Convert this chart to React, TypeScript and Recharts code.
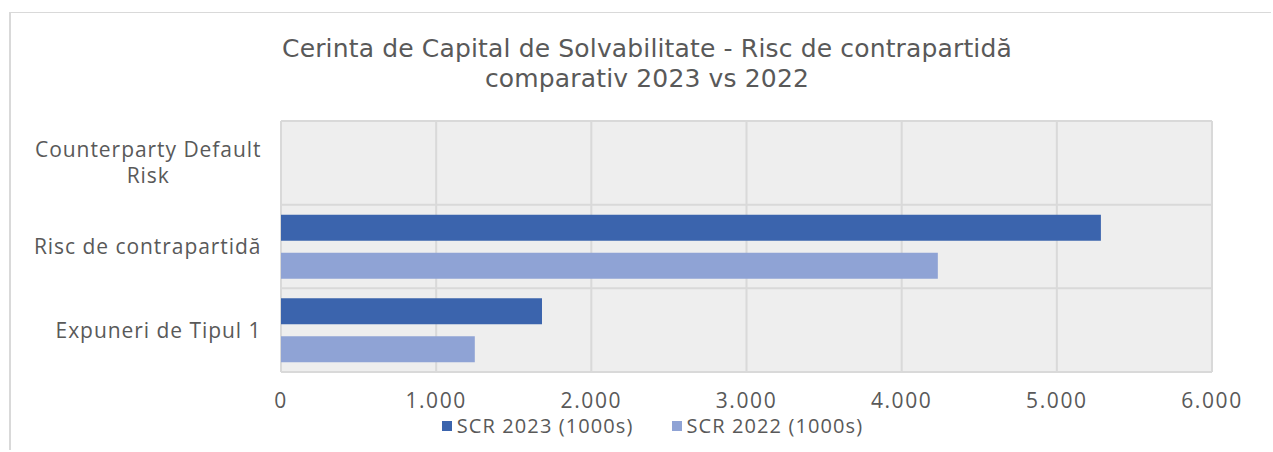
import React from "react";
import {
  BarChart,
  Bar,
  XAxis,
  YAxis,
  CartesianGrid,
  Legend,
} from "recharts";

const categories = [
  "Counterparty Default Risk",
  "Risc de contrapartidă",
  "Expuneri de Tipul 1",
];
const scr2023 = [null, 5284, 1682];
const scr2022 = [null, 4233, 1249];
const xTicks = [0, 1000, 2000, 3000, 4000, 5000, 6000];
const titleLines = [
  "Cerinta de Capital de Solvabilitate - Risc de contrapartidă",
  "comparativ 2023 vs 2022",
];

const FONT = '"Open Sans", sans-serif';
const TITLE_FONT = '"DejaVu Sans", sans-serif';
const TEXT = "#595959";
const DARK = "#3b64ad";
const LIGHT = "#8fa3d5";

const data = categories.map((name, i) => ({
  name,
  s2023: scr2023[i],
  s2022: scr2022[i],
}));

const fmt = (v: number) => v.toLocaleString("de-DE");

let ctx: CanvasRenderingContext2D | null = null;
function measure(s: string, size: number, ls: number) {
  if (!ctx) ctx = document.createElement("canvas").getContext("2d");
  if (!ctx) return s.length * size * 0.5;
  ctx.font = `${size}px ${FONT}`;
  return ctx.measureText(s).width + ls * (s.length - 1);
}

function wrap(text: string, size: number, ls: number, maxW: number) {
  const words = text.split(" ");
  const lines: string[] = [];
  let cur = "";
  for (const w of words) {
    const t = cur ? cur + " " + w : w;
    if (cur && measure(t, size, ls) > maxW) {
      lines.push(cur);
      cur = w;
    } else cur = t;
  }
  if (cur) lines.push(cur);
  return lines;
}

function CatTick(props: any) {
  const { x, y, payload } = props;
  const size = 21;
  const ls = 0.95;
  const lines = wrap(payload.value, size, ls, 240);
  const blockW = Math.max(...lines.map((l) => measure(l, size, ls)));
  const cx = x - blockW / 2;
  const lh = 26;
  const y0 = y - ((lines.length - 1) * lh) / 2;
  return (
    <text
      fill={TEXT}
      fontSize={size}
      fontFamily={FONT}
      letterSpacing={ls}
      textAnchor="middle"
    >
      {lines.map((l, i) => (
        <tspan key={i} x={cx} y={y0 + i * lh} dy="0.35em">
          {l}
        </tspan>
      ))}
    </text>
  );
}

function LegendBox() {
  const items = [
    { label: "SCR 2023 (1000s)", color: DARK },
    { label: "SCR 2022 (1000s)", color: LIGHT },
  ];
  return (
    <div
      style={{
        display: "flex",
        justifyContent: "center",
        gap: 38,
        paddingLeft: 82,
        fontFamily: FONT,
        fontSize: 20,
        letterSpacing: 1.1,
        color: TEXT,
      }}
    >
      {items.map((it) => (
        <div key={it.label} style={{ display: "flex", alignItems: "center" }}>
          <span
            style={{
              width: 10,
              height: 10,
              background: it.color,
              marginRight: 5,
              display: "inline-block",
            }}
          />
          {it.label}
        </div>
      ))}
    </div>
  );
}

export default function App() {
  return (
    <div
      style={{
        position: "absolute",
        left: 9,
        top: 12,
        width: 1262,
        height: 438,
        borderTop: "1px solid #d9d9d9",
        borderLeft: "2px solid #d9d9d9",
        boxSizing: "border-box",
        background: "#fff",
      }}
    >
      {titleLines.map((t, i) => (
        <div
          key={t}
          style={{
            position: "absolute",
            left: 0,
            top: 21 + i * 30,
            width: 1250,
            paddingLeft: 11,
            textAlign: "center",
            fontFamily: TITLE_FONT,
            fontSize: 25,
            letterSpacing: 0.15,
            lineHeight: "30px",
            color: TEXT,
          }}
        >
          {t}
        </div>
      ))}
      <BarChart
        width={1260}
        height={436}
        data={data}
        layout="vertical"
        margin={{ top: 108, right: 59, bottom: 7, left: 0 }}
        barSize={26}
        barGap={12}
      >
        <CartesianGrid
          fill="#eeeeee"
          stroke="#d9d9d9"
          strokeWidth={2}
          horizontalCoordinatesGenerator={({ offset }: any) =>
            Array.from(
              { length: categories.length + 1 },
              (_, i) => offset.top + (i * offset.height) / categories.length
            )
          }
        />
        <XAxis
          type="number"
          domain={[0, 6000]}
          ticks={xTicks}
          tickFormatter={fmt}
          axisLine={false}
          tickLine={false}
          tickSize={0}
          tickMargin={21}
          height={40}
          tick={{ fill: TEXT, fontSize: 21, fontFamily: FONT, letterSpacing: 1.6 }}
        />
        <YAxis
          type="category"
          dataKey="name"
          width={270}
          axisLine={false}
          tickLine={false}
          tickSize={0}
          tickMargin={20}
          tick={<CatTick />}
        />
        <Legend verticalAlign="bottom" height={30} content={<LegendBox />} />
        <Bar dataKey="s2023" name="SCR 2023 (1000s)" fill={DARK} isAnimationActive={false} />
        <Bar dataKey="s2022" name="SCR 2022 (1000s)" fill={LIGHT} isAnimationActive={false} />
      </BarChart>
    </div>
  );
}
